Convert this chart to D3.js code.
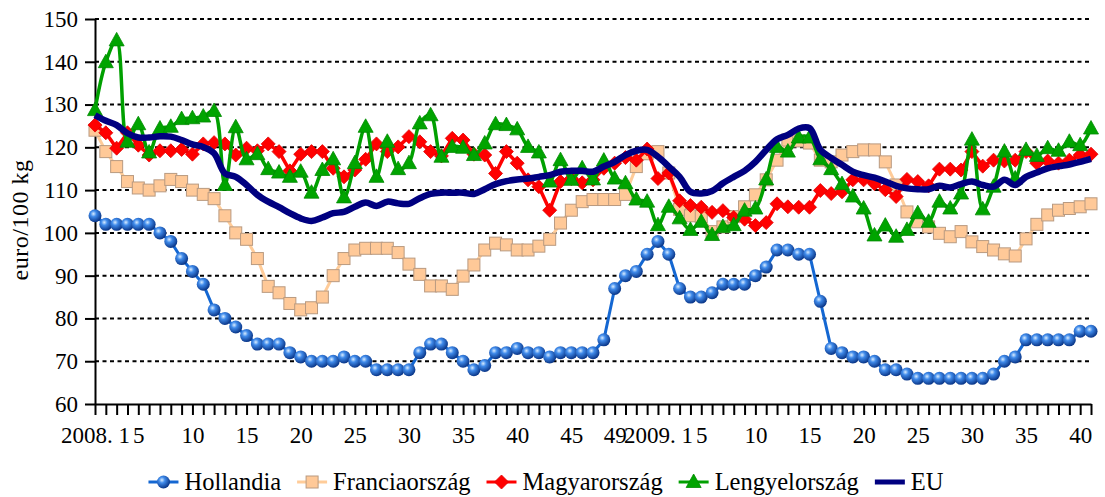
<!DOCTYPE html>
<html>
<head>
<meta charset="utf-8">
<script src="https://cdnjs.cloudflare.com/ajax/libs/d3/7.8.5/d3.min.js"></script>
<style>
  body { margin: 0; background: #fff; }
  svg text { font-family: "Liberation Serif", "DejaVu Serif", serif; fill: #000; }
</style>
</head>
<body>
<svg id="chart" width="1105" height="497"></svg>
<script>
// weekly prices, 2008 w1 .. 2009 w41 (euro/100 kg)
var weeks2008 = d3.range(1, 53);
var weeks2009 = d3.range(1, 42);

var hollandia = [104,102,102,102,102,102,100,98,94,91,88,82,80,78,76,74,74,74,72,71,70,70,70,71,70,70,68,68,68,68,
  72,74,74,72,70,68,69,72,72,73,72,72,71,72,72,72,72,75,87,90,91,95,
  98,95,87,85,85,86,88,88,88,90,92,96,96,95,95,84,73,72,71,71,70,68,68,67,66,66,66,66,66,66,66,67,70,71,75,75,75,75,75,77,77];

var francia = [124,119,115.5,112,110.5,110,111,112.5,112,110,109,108,104,100,98.5,94,87.5,86,83.5,82,82.5,85,90,94,96,96.4,96.4,96.4,95.4,92.7,
  90.3,87.6,87.6,86.8,89.9,92.5,96,97.6,97.2,96,96,96.9,98.5,102.3,105.3,107.3,107.8,107.8,107.8,109,115.5,118.5,
  119,114,105.5,104,103.8,100.3,101.4,103.8,106.1,108.9,112.4,117,121.7,121.5,121,117,116.6,118.2,119,119.4,119.4,116.6,111.2,104.9,
  102.6,101.4,99.9,99.1,100.3,97.9,96.8,96,95.1,94.6,98.6,102,104.2,105.3,105.7,106.1,106.8];

var magyar = [125.2,123.4,119.8,123.4,120.5,118.2,119.2,119.2,119.5,118.4,120.8,121.1,120.8,118.2,119.8,119.2,120.8,119,114.5,118.4,119,119,115.1,113.1,114.7,
  117.2,120.8,119,120.1,122.5,121.3,119,118,122.1,121.7,118.4,118.2,113.9,119,116.3,112.4,110.8,105.3,112,112.7,111.7,112.4,115.1,116.3,117.6,117,119.6,
  112.7,114,107.5,106.4,106,104.8,105.2,103.6,103.2,101.7,102.4,106.8,106.1,106,106,109.9,109.2,109.6,112.4,112.4,111.5,110.1,108.5,112.5,
  112,111,114.9,114.9,114.7,119,115.6,117,116.8,117,119,116.3,116.8,116.3,117,118.2,118.4];

var lengyel = [128.7,139.9,145,121.3,125.4,118.8,124.4,124.8,126.6,126.8,127.2,128.5,111.2,124.7,117.2,118.4,114.9,114.1,113.1,114.3,109.4,114.7,117.2,108.3,116.3,
  124.8,113.1,121.3,114.9,116.3,125.6,127.5,117.8,120.1,119.9,118.2,120.9,125.4,125.2,124.2,120.1,118.8,112,117,112.4,115.1,112.5,116.9,112.7,111.6,107.8,107.3,
  101.8,106.1,103.4,100.7,102.6,99.5,101.4,101.8,105.2,105.7,112.5,120.1,119,122.3,122.3,117.2,114.9,111.4,108.5,105.7,99.4,101.7,99.1,100.7,
  104.6,102.6,107.3,105.7,109.2,121.8,105.5,110.8,119,112.7,119.4,118,119.8,119.2,121.3,120.5,124.4];

var eu = [127.5,126.2,125.2,123.3,122.3,122.3,122.6,122.5,121.7,120.7,120.1,118.6,113.9,113.1,111.2,108.9,107.3,106,104.6,103.4,102.8,103.6,104.6,104.9,106.1,
  107.1,106.3,107.3,106.9,106.8,108.1,109.1,109.4,109.4,109.4,109.1,110.2,111.4,112.1,112.5,112.7,113.1,113.5,114.3,114.5,114.5,114.3,115.5,116.6,118.2,119.2,119.4,
  117.8,115.5,113.1,109.6,109.2,109.8,111.6,113.1,114.5,116.6,119.4,121.9,122.9,124.4,124.5,119.4,117.5,115.9,114.3,113.5,112.9,112,111,110.4,
  110.2,110.2,111,110.6,111.4,112,111.2,110.8,112.4,111.2,113.1,114.1,115.1,115.6,116,116.6,117.3];

var seriesNames = ["Hollandia", "Franciaország", "Magyarország", "Lengyelország", "EU"];
var yTicks = [60, 70, 80, 90, 100, 110, 120, 130, 140, 150];
var labelWeeks = [1, 5, 10, 15, 20, 25, 30, 35, 40, 45, 49];
var labelWeeks09 = [1, 5, 10, 15, 20, 25, 30, 35, 40];

var categories = weeks2008.map(function(w) { return "2008-" + w; })
  .concat(weeks2009.map(function(w) { return "2009-" + w; }));

var tickText = {};
labelWeeks.forEach(function(w) { tickText["2008-" + w] = w === 1 ? "2008. 1" : String(w); });
labelWeeks09.forEach(function(w) { tickText["2009-" + w] = w === 1 ? "2009. 1" : String(w); });

var svg = d3.select("#chart");
var plotLeft = 95, plotRight = 1091, plotTop = 19, plotBottom = 404;

var x = d3.scalePoint().domain(categories).range([plotLeft, plotRight]);
var y = d3.scaleLinear().domain([60, 150]).range([plotBottom, plotTop]);

var defs = svg.append("defs");
var grad = defs.append("radialGradient").attr("id", "sphere")
  .attr("cx", "38%").attr("cy", "35%").attr("r", "65%");
grad.append("stop").attr("offset", "0%").attr("stop-color", "#d8ecff");
grad.append("stop").attr("offset", "35%").attr("stop-color", "#3f8aea");
grad.append("stop").attr("offset", "100%").attr("stop-color", "#0a3688");

// gridlines
svg.append("g").selectAll("line")
  .data(yTicks.filter(function(d) { return d > 60; }))
  .join("line")
  .attr("x1", plotLeft).attr("x2", plotRight)
  .attr("y1", function(d) { return y(d); }).attr("y2", function(d) { return y(d); })
  .attr("stroke", "#000").attr("stroke-width", 2).attr("stroke-dasharray", "4,3.5");

// axes
var yAxis = svg.append("g").attr("transform", "translate(" + plotLeft + ",0)")
  .call(d3.axisLeft(y).tickValues(yTicks).tickSize(10).tickPadding(7).tickSizeOuter(0));
yAxis.selectAll("text").style("font-size", "23px");

var xAxis = svg.append("g").attr("transform", "translate(0," + plotBottom + ")")
  .call(d3.axisBottom(x).tickSize(11).tickPadding(12).tickSizeOuter(0)
    .tickFormat(function(d) { return tickText[d] || ""; }));
xAxis.selectAll("text").style("font-size", "23px");

svg.selectAll(".domain").attr("stroke", "#000").attr("stroke-width", 2);
svg.selectAll(".tick line").attr("stroke", "#000").attr("stroke-width", 2);

svg.append("text")
  .attr("transform", "translate(28,220) rotate(-90)")
  .attr("text-anchor", "middle")
  .style("font-size", "24px")
  .style("letter-spacing", "0.5px")
  .text("euro/100 kg");

// series
function drawLine(values, color, width, curve) {
  var line = d3.line()
    .x(function(d, i) { return x(categories[i]); })
    .y(function(d) { return y(d); })
    .curve(curve || d3.curveLinear);
  svg.append("path").datum(values)
    .attr("d", line).attr("fill", "none")
    .attr("stroke", color).attr("stroke-width", width)
    .attr("stroke-linejoin", "round");
}

function markers(values, draw) {
  var g = svg.append("g");
  values.forEach(function(v, i) { draw(g, x(categories[i]), y(v)); });
}

function sphere(g, cx, cy) {
  g.append("circle").attr("cx", cx).attr("cy", cy).attr("r", 6.5).attr("fill", "url(#sphere)");
}
function square(g, cx, cy) {
  g.append("rect").attr("x", cx - 6).attr("y", cy - 6).attr("width", 12).attr("height", 12)
    .attr("fill", "#ffc998").attr("stroke", "#b99a80").attr("stroke-width", 1);
}
function diamond(g, cx, cy) {
  g.append("path").attr("d", "M" + cx + "," + (cy - 7) + "L" + (cx + 7) + "," + cy + "L" + cx + "," + (cy + 7) + "L" + (cx - 7) + "," + cy + "Z")
    .attr("fill", "#ff0000").attr("stroke", "#e00000").attr("stroke-width", 0.8);
}
function triangle(g, cx, cy) {
  g.append("path").attr("d", "M" + cx + "," + (cy - 8) + "L" + (cx + 7.5) + "," + (cy + 5.5) + "L" + (cx - 7.5) + "," + (cy + 5.5) + "Z")
    .attr("fill", "#00a400").attr("stroke", "#008a00").attr("stroke-width", 0.8);
}

drawLine(hollandia, "#1467d2", 3);
markers(hollandia, sphere);
drawLine(francia, "#ffcc99", 3);
markers(francia, square);
drawLine(magyar, "#ff0000", 3.5);
markers(magyar, diamond);
drawLine(lengyel, "#00a000", 3.5, d3.curveCatmullRom.alpha(0.5));
markers(lengyel, triangle);
drawLine(eu, "#000080", 6.5, d3.curveCatmullRom.alpha(0.5));

// legend
var legendColors = ["#1467d2", "#ffcc99", "#ff0000", "#00a000", "#000080"];
var legendMarks = [sphere, square, diamond, triangle, null];
var legend = svg.append("g");
var lx = 0, ly = 482;
seriesNames.forEach(function(name, i) {
  var item = legend.append("g").attr("transform", "translate(" + lx + ",0)");
  item.append("line").attr("x1", 0).attr("x2", 30).attr("y1", ly).attr("y2", ly)
    .attr("stroke", legendColors[i]).attr("stroke-width", i === 4 ? 5 : 3);
  if (legendMarks[i]) legendMarks[i](item, 15, ly);
  var t = item.append("text").attr("x", 36).attr("y", ly + 8).style("font-size", "24.5px").text(name);
  lx += 36 + t.node().getComputedTextLength() + 16;
});
legend.attr("transform", "translate(" + (546 - (lx - 16) / 2) + ",0)");
</script>
</body>
</html>
